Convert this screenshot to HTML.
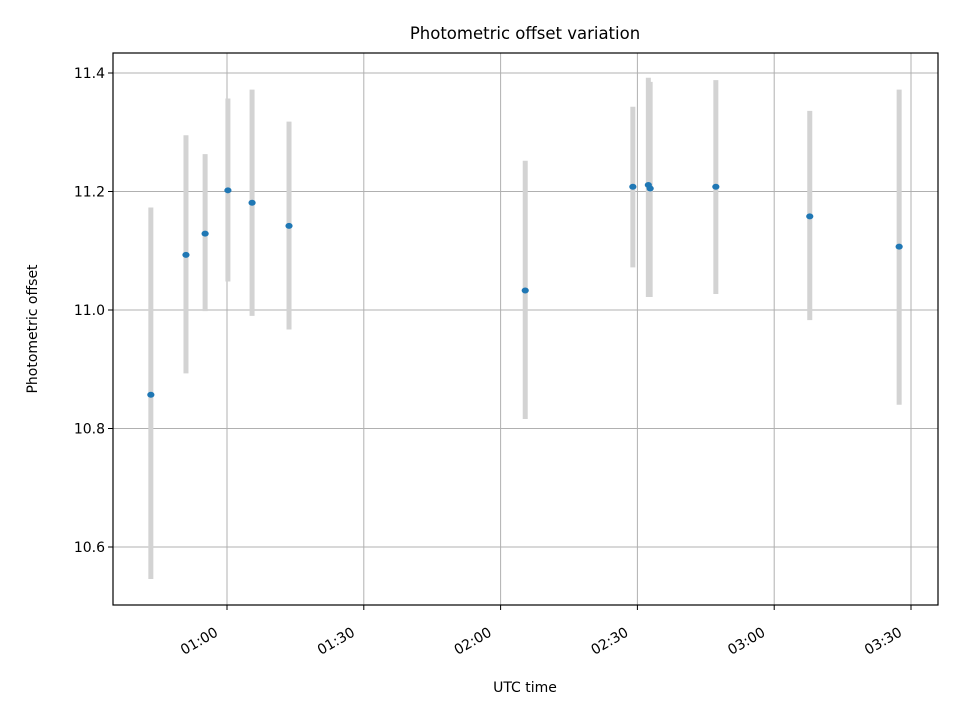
<!DOCTYPE html>
<html><head><meta charset="utf-8"><style>
body{margin:0;background:#fff;font-family:"Liberation Sans","DejaVu Sans",sans-serif}
</style></head><body>
<svg id="chart" width="960" height="720" viewBox="0 0 960 720" xmlns="http://www.w3.org/2000/svg" font-family="DejaVu Sans, Liberation Sans, sans-serif">
<rect width="960" height="720" fill="#fff"/>
<g id="grid"></g>
<g id="bars"></g>
<g id="pts"></g>
<rect x="113" y="53" width="825" height="552" fill="none" stroke="#000" stroke-width="1.2"/>
<g id="axes"></g>
<text x="525" y="39" text-anchor="middle" font-size="16.5">Photometric offset variation</text>
<text x="525" y="692" text-anchor="middle" font-size="14">UTC time</text>
<text transform="translate(37,329) rotate(-90)" text-anchor="middle" font-size="14">Photometric offset</text>
</svg>
<script>
// minutes after 00:00 UTC
const times = [43.3, 51.0, 55.2, 60.2, 65.5, 73.6, 125.4, 149.0, 152.4, 152.8, 167.2, 187.8, 207.4];
const offsets = [10.857, 11.093, 11.129, 11.202, 11.181, 11.142, 11.033, 11.208, 11.211, 11.205, 11.208, 11.158, 11.107];
const errLow = [10.546, 10.893, 10.998, 11.048, 10.990, 10.967, 10.816, 11.072, 11.022, 11.022, 11.027, 10.983, 10.840];
const errHigh = [11.173, 11.295, 11.263, 11.357, 11.372, 11.318, 11.252, 11.343, 11.392, 11.385, 11.388, 11.336, 11.372];
const yTicks = [10.6, 10.8, 11.0, 11.2, 11.4];
const xTicks = [60, 90, 120, 150, 180, 210];
const xTickLabels = ["01:00", "01:30", "02:00", "02:30", "03:00", "03:30"];

const NS = "http://www.w3.org/2000/svg";
const L = 113, R = 938, T = 53, B = 605;
function xs(m){ return 227 + (m - 60) * (136.8 / 30); }
function ys(v){ return 310 - (v - 11.0) * (118.5 / 0.2); }
function mk(tag, attrs, parent){
  const e = document.createElementNS(NS, tag);
  for (const k in attrs) e.setAttribute(k, attrs[k]);
  parent.appendChild(e); return e;
}
const grid = document.getElementById('grid'), axes = document.getElementById('axes');
const bars = document.getElementById('bars'), pts = document.getElementById('pts');

yTicks.forEach(v => {
  const y = ys(v);
  const g = mk('line', {x1:L, x2:R, y1:y, y2:y, stroke:'#b0b0b0', 'stroke-width':1}, grid);
  
  
  const t = mk('line', {x1:L-5, x2:L, y1:y, y2:y, stroke:'#000', 'stroke-width':1}, axes);
  
  
  const lb = mk('text', {x:L-8, y:y+5, 'text-anchor':'end', 'font-size':14}, axes);
  lb.textContent = v.toFixed(1);
  
  
});
xTicks.forEach((m, i) => {
  const x = xs(m);
  const g = mk('line', {x1:x, x2:x, y1:T, y2:B, stroke:'#b0b0b0', 'stroke-width':1}, grid);
  
  
  const t = mk('line', {x1:x, x2:x, y1:B, y2:B+5, stroke:'#000', 'stroke-width':1}, axes);
  
  
  const ax = x - 8, ay = B + 30;
  const lb = mk('text', {x:ax, y:ay, 'text-anchor':'end', 'font-size':14, transform:'rotate(-30 '+ax+' '+ay+')'}, axes);
  lb.textContent = xTickLabels[i];
  
  
});
times.forEach((m, i) => {
  const x = xs(m);
  const b = mk('line', {x1:x, x2:x, y1:ys(errLow[i]), y2:ys(errHigh[i]), stroke:'#d3d3d3', 'stroke-width':5}, bars);
  
  
});
times.forEach((m, i) => {
  const p = mk('ellipse', {cx:xs(m), cy:ys(offsets[i]), rx:3.6, ry:3, fill:'#1f77b4'}, pts);
  
  
});
</script>
</body></html>
